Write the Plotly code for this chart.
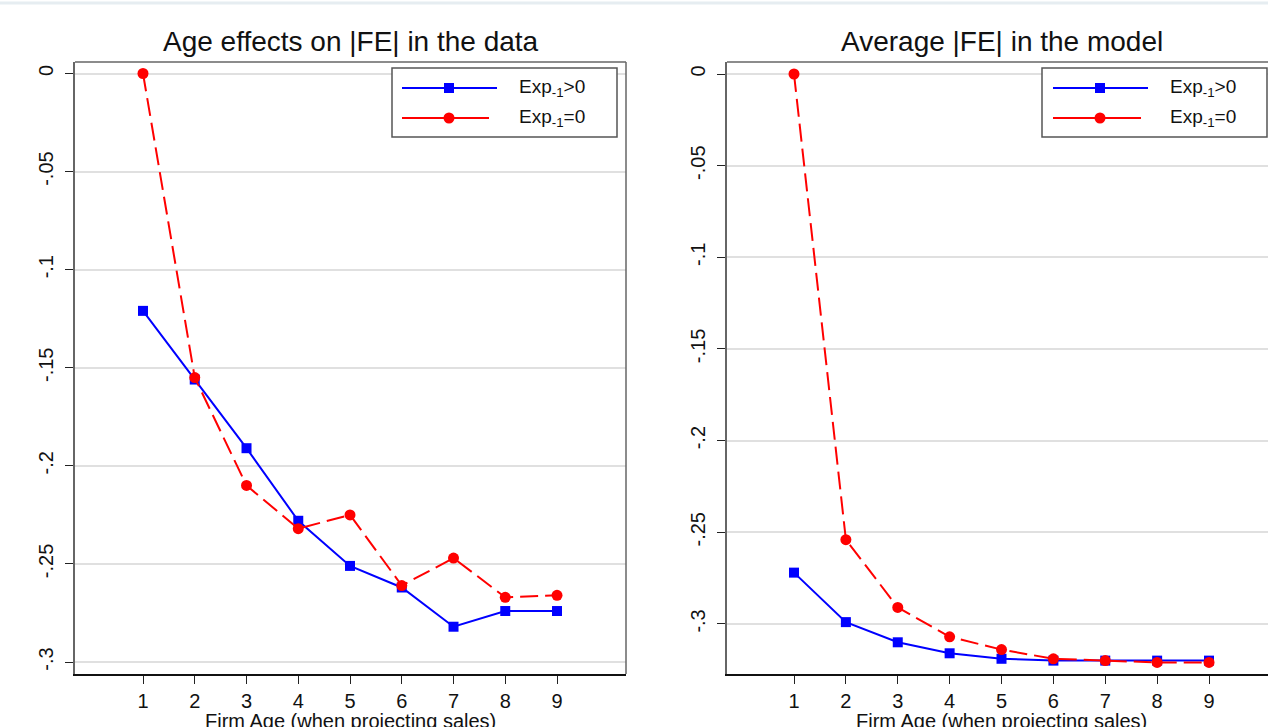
import plotly.graph_objects as go

# ---- data ----
ages = [1, 2, 3, 4, 5, 6, 7, 8, 9]
data_exp_pos = [-0.121, -0.156, -0.191, -0.228, -0.251, -0.262, -0.282, -0.274, -0.274]
data_exp_zero = [0.0, -0.155, -0.210, -0.232, -0.225, -0.261, -0.247, -0.267, -0.266]
model_exp_pos = [-0.272, -0.299, -0.310, -0.316, -0.319, -0.320, -0.320, -0.320, -0.320]
model_exp_zero = [0.0, -0.254, -0.291, -0.307, -0.314, -0.319, -0.320, -0.321, -0.321]
ytick_vals = [0, -0.05, -0.1, -0.15, -0.2, -0.25, -0.3]
ytick_text = ["0", "-.05", "-.1", "-.15", "-.2", "-.25", "-.3"]
xtick_text = [str(a) for a in ages]
titles = ["Age effects on |FE| in the data", "Average |FE| in the model"]
xlabel = "Firm Age (when projecting sales)"
legend_labels = ["Exp<sub>-1</sub>&gt;0", "Exp<sub>-1</sub>=0"]

W, H = 1268, 727
BLUE = "#0000ff"
RED = "#ff0000"
FONT = "Liberation Sans, Arial, sans-serif"


def px(x):
    return x / W


def py(y):
    return 1 - y / H


fig = go.Figure()

series = [
    ("x", "y", data_exp_pos, data_exp_zero),
    ("x2", "y2", model_exp_pos, model_exp_zero),
]
for xa, ya, bl, rd in series:
    fig.add_trace(go.Scatter(
        x=ages, y=bl, xaxis=xa, yaxis=ya, mode="lines+markers",
        line=dict(color=BLUE, width=2),
        marker=dict(symbol="square", size=10, color=BLUE),
        showlegend=False, cliponaxis=False))
    fig.add_trace(go.Scatter(
        x=ages, y=rd, xaxis=xa, yaxis=ya, mode="lines+markers",
        line=dict(color=RED, width=2, dash="18px,7px"),
        marker=dict(symbol="circle", size=11, color=RED),
        showlegend=False, cliponaxis=False))

panels = [
    dict(left=75, right=626, xr=[-0.314, 10.333], yr=[-0.3061, 0.00586]),
    dict(left=727, right=1276, xr=[-0.2916, 10.137], yr=[-0.3273, 0.00655]),
]
top, bottom = 62, 674

common_x = dict(
    tickmode="array", tickvals=ages, ticktext=xtick_text,
    ticks="outside", ticklen=8, tickwidth=1.2, tickcolor="#222",
    showgrid=False, zeroline=False,
    showline=True, linecolor="#111", linewidth=2,
    tickfont=dict(family=FONT, size=20, color="#111"),
)
common_y = dict(
    tickmode="array", tickvals=ytick_vals, ticktext=ytick_text,
    ticks="outside", ticklen=8, tickwidth=1.2, tickcolor="#222",
    showgrid=True, gridcolor="#e0e0e0", gridwidth=2, zeroline=False,
    showline=True, linecolor="#666", linewidth=1.5,
    tickangle=-90, ticklabelstandoff=4,
    tickfont=dict(family=FONT, size=20, color="#111"),
)

fig.update_layout(
    xaxis=dict(domain=[px(75), px(626)], range=panels[0]["xr"], anchor="y", **common_x),
    yaxis=dict(domain=[py(bottom), py(top)], range=panels[0]["yr"], anchor="x", **common_y),
    xaxis2=dict(domain=[px(727), 1.0], range=panels[1]["xr"], anchor="y2", **common_x),
    yaxis2=dict(domain=[py(bottom), py(top)], range=panels[1]["yr"], anchor="x2", **common_y),
    width=W, height=H,
    margin=dict(l=0, r=0, t=0, b=0),
    paper_bgcolor="white", plot_bgcolor="white",
    showlegend=False,
)

shapes = []
annotations = []

# frame: top and right lines (gray)
shapes.append(dict(type="line", xref="paper", yref="paper",
                   x0=px(75), x1=px(626), y0=py(top), y1=py(top),
                   line=dict(color="#666", width=1.5)))
shapes.append(dict(type="line", xref="paper", yref="paper",
                   x0=px(626), x1=px(626), y0=py(top), y1=py(bottom),
                   line=dict(color="#666", width=1.5)))
shapes.append(dict(type="line", xref="paper", yref="paper",
                   x0=px(727), x1=1.0, y0=py(top), y1=py(top),
                   line=dict(color="#666", width=1.5)))
# faint top strip
shapes.append(dict(type="line", xref="paper", yref="paper",
                   x0=0, x1=1, y0=py(3), y1=py(3),
                   line=dict(color="#e6edf1", width=3)))

# titles and x labels
for i, p in enumerate(panels):
    cx = (p["left"] + p["right"]) / 2
    annotations.append(dict(xref="paper", yref="paper", x=px(cx), y=py(41),
                            text=titles[i], showarrow=False,
                            xanchor="center", yanchor="middle",
                            font=dict(family=FONT, size=28, color="#111")))
    annotations.append(dict(xref="paper", yref="paper", x=px(cx), y=py(708),
                            text=xlabel, showarrow=False,
                            xanchor="center", yanchor="top",
                            font=dict(family=FONT, size=20, color="#111")))

# manual legends
legends = [
    dict(box=(392, 68, 617, 137), lx0=402, lx1b=497, lx1r=489, mx=449, tx=517),
    dict(box=(1042, 68, 1267, 137), lx0=1053, lx1b=1148, lx1r=1141, mx=1100, tx=1168),
]
for lg in legends:
    x0, y0, x1, y1 = lg["box"]
    shapes.append(dict(type="rect", xref="paper", yref="paper",
                       x0=px(x0), x1=px(x1), y0=py(y0), y1=py(y1),
                       line=dict(color="#555", width=1.5), fillcolor="white", layer="above"))
    rows = [(88, BLUE, lg["lx1b"], "sq"), (118, RED, lg["lx1r"], "ci")]
    for j, (ry, col, lx1, kind) in enumerate(rows):
        shapes.append(dict(type="line", xref="paper", yref="paper",
                           x0=px(lg["lx0"]), x1=px(lx1), y0=py(ry), y1=py(ry),
                           line=dict(color=col, width=2), layer="above"))
        r = 5 if kind == "sq" else 5.5
        shapes.append(dict(type="rect" if kind == "sq" else "circle",
                           xref="paper", yref="paper",
                           x0=px(lg["mx"] - r), x1=px(lg["mx"] + r),
                           y0=py(ry - r), y1=py(ry + r),
                           line=dict(color=col, width=0), fillcolor=col, layer="above"))
        annotations.append(dict(xref="paper", yref="paper", x=px(lg["tx"]), y=py(ry),
                                text=legend_labels[j], showarrow=False,
                                xanchor="left", yanchor="middle",
                                font=dict(family=FONT, size=19, color="#111")))

fig.update_layout(shapes=shapes, annotations=annotations)
fig.write_html(
    "out.html",
    config={"displayModeBar": False},
    post_script="document.body.style.margin='0';document.body.style.overflow='hidden';",
)
